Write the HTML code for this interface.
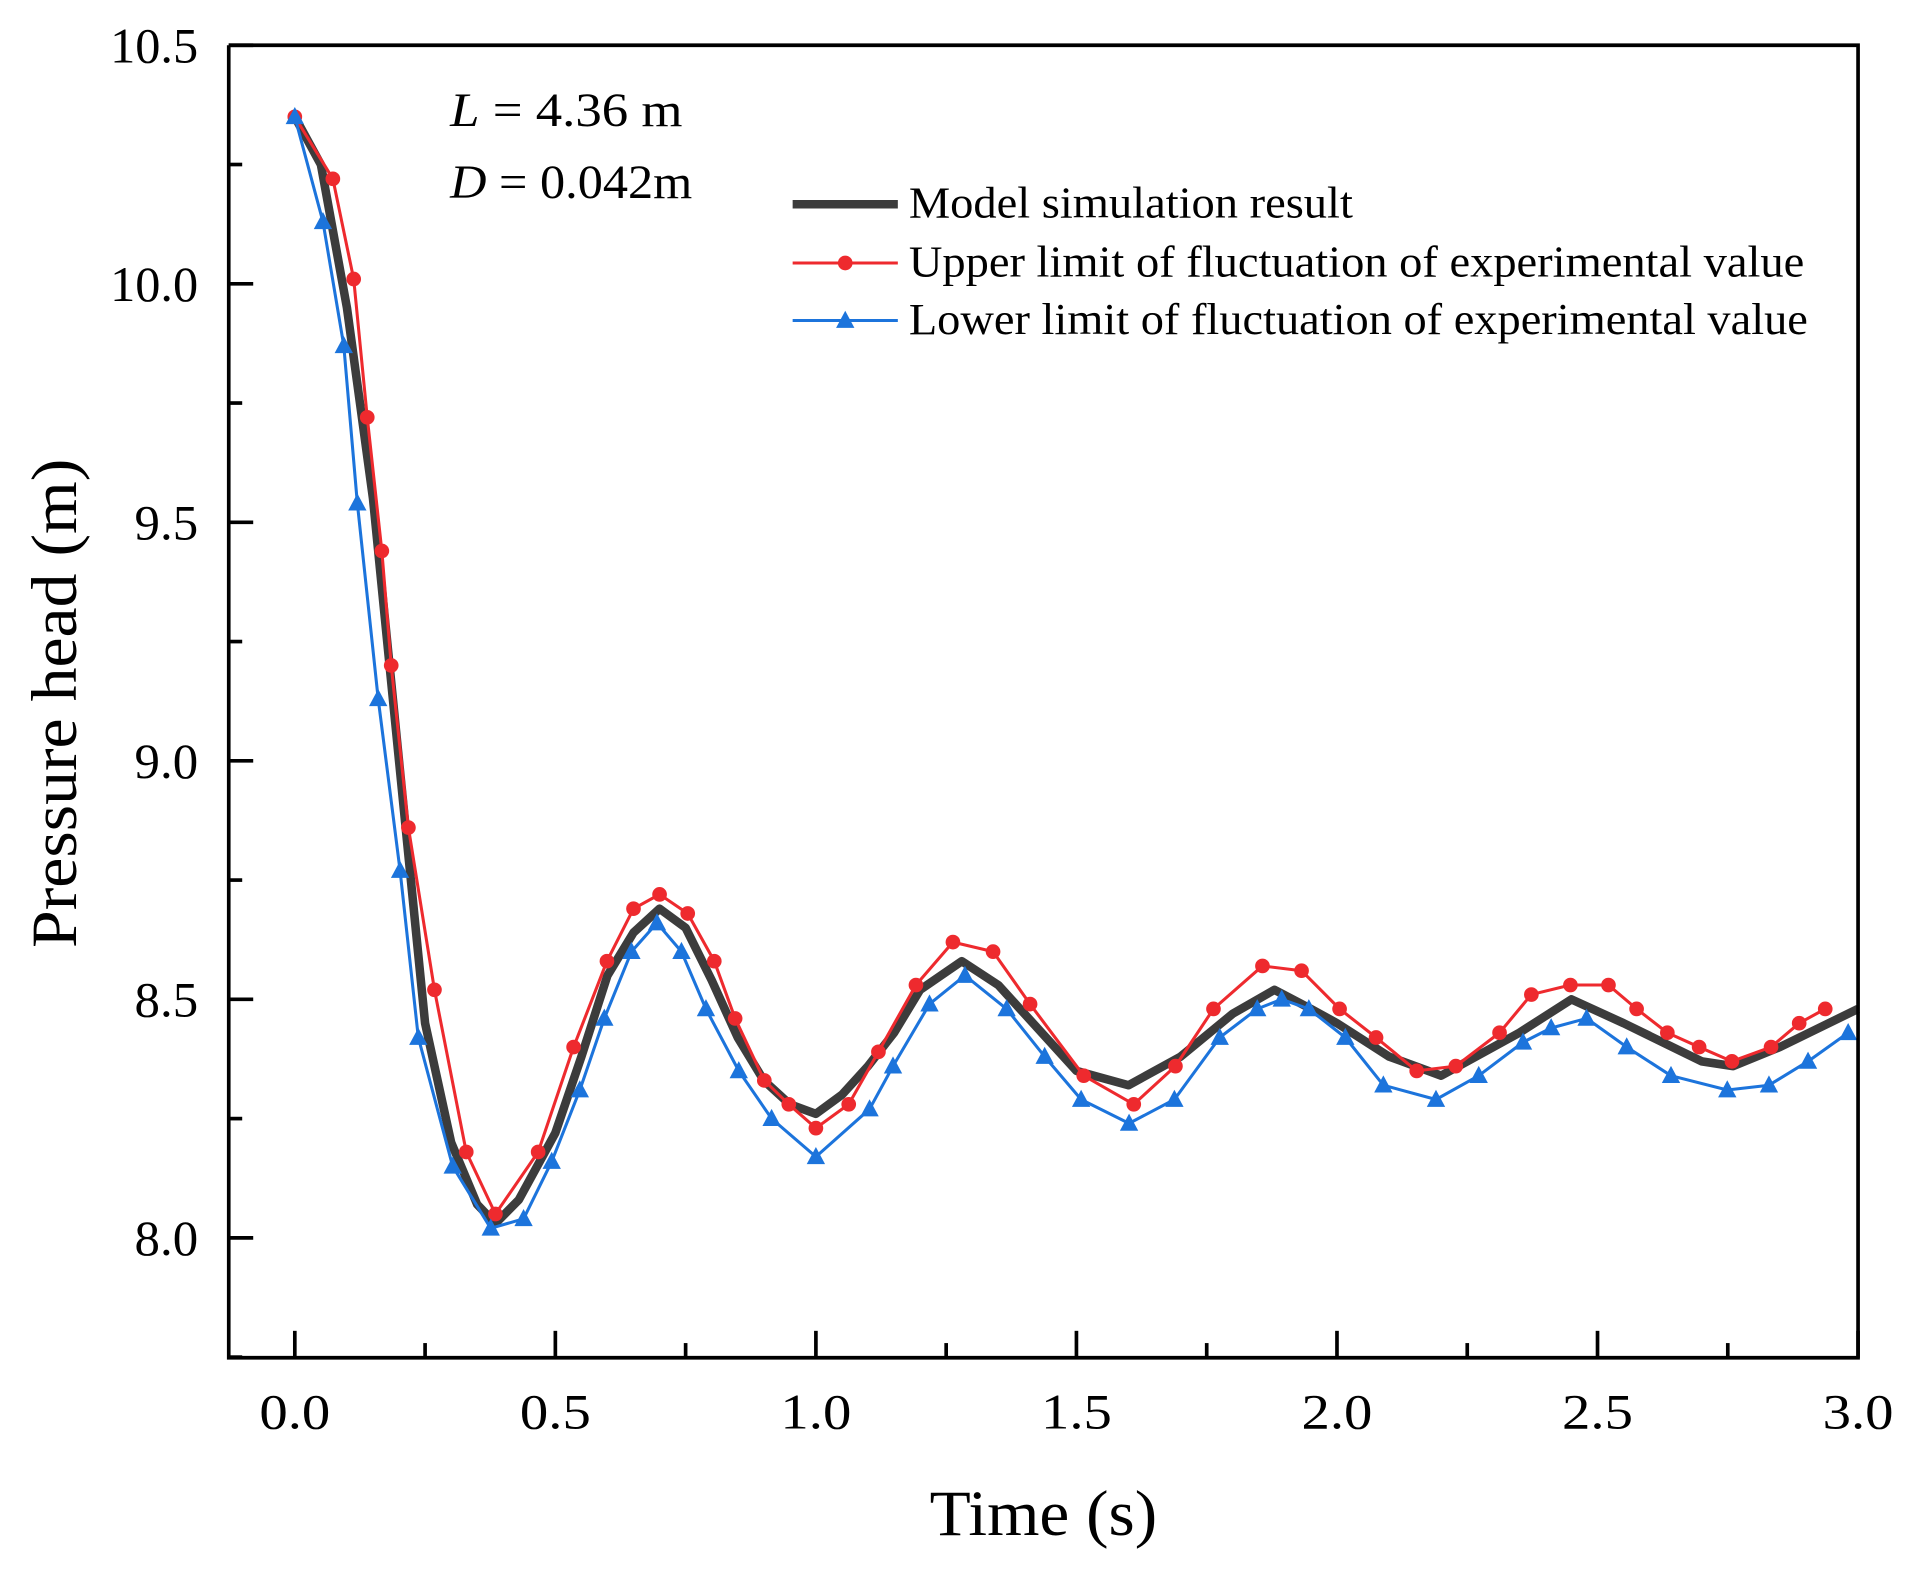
<!DOCTYPE html>
<html><head><meta charset="utf-8"><style>
html,body{margin:0;padding:0;background:#fff;}
svg{display:block;font-family:"Liberation Serif",serif;}
</style></head><body>
<svg id="chart" width="1918" height="1580" viewBox="0 0 1568 1291.7" preserveAspectRatio="none" xmlns="http://www.w3.org/2000/svg"></svg>
<script>
const xTicks=[0.0,0.5,1.0,1.5,2.0,2.5,3.0];
const yTicks=[8.0,8.5,9.0,9.5,10.0,10.5];
const modelT=[0,0.05,0.1,0.15,0.2,0.25,0.3,0.35,0.385,0.43,0.5,0.55,0.6,0.65,0.7,0.75,0.8,0.85,0.9,0.95,1.0,1.05,1.1,1.15,1.2,1.28,1.35,1.4,1.45,1.5,1.6,1.7,1.8,1.88,1.95,2.0,2.1,2.2,2.25,2.35,2.45,2.55,2.7,2.76,2.85,3.0];
const modelV=[10.35,10.25,9.95,9.55,9.0,8.45,8.2,8.07,8.03,8.08,8.22,8.38,8.55,8.64,8.69,8.65,8.54,8.42,8.33,8.28,8.26,8.30,8.36,8.43,8.52,8.58,8.53,8.47,8.41,8.35,8.32,8.38,8.47,8.52,8.48,8.45,8.38,8.34,8.37,8.43,8.50,8.45,8.37,8.36,8.40,8.48];
const upperT=[0,0.073,0.113,0.139,0.167,0.185,0.218,0.268,0.329,0.385,0.467,0.535,0.599,0.650,0.700,0.754,0.805,0.845,0.901,0.948,1.0,1.063,1.120,1.192,1.263,1.340,1.411,1.514,1.610,1.690,1.763,1.857,1.932,2.005,2.075,2.153,2.228,2.312,2.373,2.448,2.521,2.575,2.634,2.695,2.758,2.833,2.887,2.937];
const upperV=[10.35,10.22,10.01,9.72,9.44,9.20,8.86,8.52,8.18,8.05,8.18,8.40,8.58,8.69,8.72,8.68,8.58,8.46,8.33,8.28,8.23,8.28,8.39,8.53,8.62,8.60,8.49,8.34,8.28,8.36,8.48,8.57,8.56,8.48,8.42,8.35,8.36,8.43,8.51,8.53,8.53,8.48,8.43,8.40,8.37,8.40,8.45,8.48];
const lowerT=[0,0.054,0.094,0.120,0.160,0.202,0.237,0.303,0.376,0.439,0.493,0.547,0.594,0.646,0.695,0.742,0.789,0.852,0.915,1.0,1.103,1.148,1.218,1.286,1.366,1.439,1.509,1.601,1.688,1.775,1.847,1.894,1.946,2.016,2.089,2.190,2.272,2.357,2.411,2.479,2.556,2.641,2.749,2.829,2.904,2.981];
const lowerV=[10.35,10.13,9.87,9.54,9.13,8.77,8.42,8.15,8.02,8.04,8.16,8.31,8.46,8.60,8.66,8.60,8.48,8.35,8.25,8.17,8.27,8.36,8.49,8.55,8.48,8.38,8.29,8.24,8.29,8.42,8.48,8.50,8.48,8.42,8.32,8.29,8.34,8.41,8.44,8.46,8.40,8.34,8.31,8.32,8.37,8.43];

const NS="http://www.w3.org/2000/svg";
const svg=document.getElementById('chart');
const L=187,R=1519,T=37,B=1110;
const X0=-0.1268,X1=3.0,Y0=7.7487,Y1=10.5;
function sx(t){return L+(t-X0)/(X1-X0)*(R-L);}
function sy(v){return B-(v-Y0)/(Y1-Y0)*(B-T);}
function mk(tag,attrs,parent){const e=document.createElementNS(NS,tag);for(const k in attrs)e.setAttribute(k,attrs[k]);(parent||svg).appendChild(e);return e;}

function line(ts,vs,color,w,name){
  const p=mk('polyline',{points:ts.map((t,i)=>sx(t)+','+sy(vs[i])).join(' '),fill:'none',stroke:color,'stroke-width':w,'stroke-linejoin':'round'});
  
  
}
line(modelT,modelV,'#3c3c3c',7,'model-simulation-line');
line(upperT,upperV,'#ee2a2e',2.5,'upper-limit-line');
upperT.forEach((t,i)=>{const c=mk('circle',{cx:sx(t),cy:sy(upperV[i]),r:6,fill:'#ee2a2e'});
  
  });
line(lowerT,lowerV,'#1c74dc',2.5,'lower-limit-line');
lowerT.forEach((t,i)=>{const x=sx(t),y=sy(lowerV[i]);const p=mk('polygon',{points:`${x},${y-8} ${x-7.5},${y+6} ${x+7.5},${y+6}`,fill:'#1c74dc'});
  
  });

const ax=mk('path',{d:`M${L},${T}V${B}H${R}V${T}H${L}`,fill:'none',stroke:'#000','stroke-width':3});


for(let t=0;t<=3.0001;t+=0.25){const major=Math.abs(t*2-Math.round(t*2))<1e-6;mk('line',{x1:sx(t),x2:sx(t),y1:B,y2:B-(major?22:12),stroke:'#000','stroke-width':3});}
for(let v=7.75;v<=10.5001;v+=0.25){const major=Math.abs(v*2-Math.round(v*2))<1e-6;mk('line',{x1:L,x2:L+(major?20:11),y1:sy(v),y2:sy(v),stroke:'#000','stroke-width':3});}
xTicks.forEach(t=>{const e=mk('text',{x:sx(t),y:1168,'font-size':41,'text-anchor':'middle',textLength:58,lengthAdjust:'spacingAndGlyphs'});e.textContent=t.toFixed(1);
  
  });
yTicks.forEach(v=>{const s=v.toFixed(1);const e=mk('text',{x:162,y:sy(v)+14,'font-size':41,'text-anchor':'end',textLength:s.length>3?72:52,lengthAdjust:'spacingAndGlyphs'});e.textContent=s;
  
  });

const xt=mk('text',{x:853,y:1255,'font-size':53,'text-anchor':'middle',textLength:186,lengthAdjust:'spacingAndGlyphs'});xt.textContent='Time (s)';


const yt=mk('text',{x:0,y:0,'font-size':53,'text-anchor':'middle',textLength:400,lengthAdjust:'spacingAndGlyphs',transform:'translate(62,575) rotate(-90)'});yt.textContent='Pressure head (m)';



const a1=mk('text',{x:368,y:103,'font-size':39,textLength:190,lengthAdjust:'spacingAndGlyphs'});a1.innerHTML='<tspan font-style="italic">L</tspan> = 4.36 m';


const a2=mk('text',{x:368,y:162,'font-size':39,textLength:198,lengthAdjust:'spacingAndGlyphs'});a2.innerHTML='<tspan font-style="italic">D</tspan> = 0.042m';



const lg=mk('g',{});


mk('line',{x1:648,x2:734,y1:167,y2:167,stroke:'#3c3c3c','stroke-width':7},lg);
mk('line',{x1:648,x2:734,y1:215,y2:215,stroke:'#ee2a2e','stroke-width':2.5},lg);
mk('circle',{cx:691,cy:215,r:6,fill:'#ee2a2e'},lg);
mk('line',{x1:648,x2:734,y1:262,y2:262,stroke:'#1c74dc','stroke-width':2.5},lg);
mk('polygon',{points:'691,254 683.5,268 698.5,268',fill:'#1c74dc'},lg);
[['Model simulation result',178,363],['Upper limit of fluctuation of experimental value',226,732],['Lower limit of fluctuation of experimental value',273,735]].forEach(([s,y,w])=>{
  const e=mk('text',{x:743,y:y,'font-size':36,textLength:w,lengthAdjust:'spacingAndGlyphs'},lg);e.textContent=s;
  
  });
</script>
</body></html>
